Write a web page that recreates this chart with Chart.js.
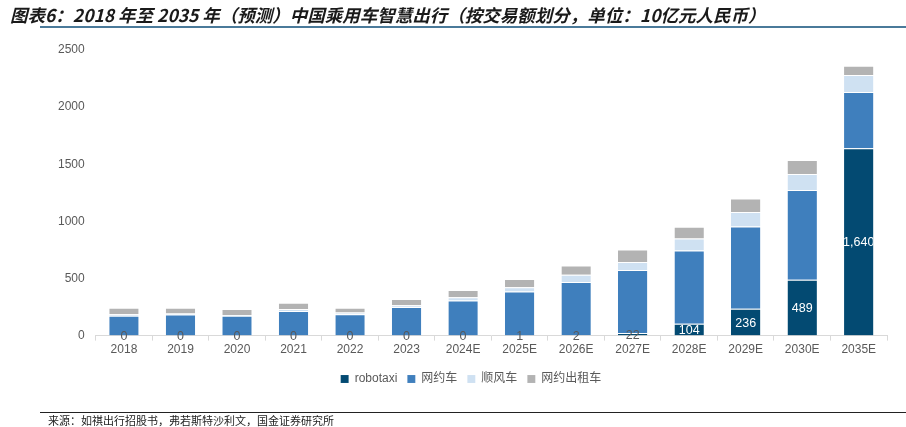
<!DOCTYPE html>
<html lang="zh">
<head>
<meta charset="utf-8">
<script src="https://cdn.jsdelivr.net/npm/chart.js@4.4.0/dist/chart.umd.min.js"></script>
<style>
  body { margin: 0; background: #fff; width: 906px; height: 427px; overflow: hidden; position: relative; }
  #titulo { position: absolute; left: 10px; top: 2px; font: italic bold 17.5px "Noto Sans CJK SC", sans-serif; color: #1a1a1a; white-space: nowrap; }
  #linea-titulo { position: absolute; left: 40px; right: 0; top: 26px; height: 2px; background: #4a7a9a; }
  #linea-fuente { position: absolute; left: 40px; right: 0; top: 412px; height: 1px; background: #222; }
  #fuente { position: absolute; left: 48px; top: 412px; font: 11px "Noto Sans CJK SC", sans-serif; color: #222; white-space: nowrap; }
  #caja { position: absolute; left: 0; top: 0; width: 906px; height: 427px; }
</style>
</head>
<body>
<div id="caja"><canvas id="grafica"></canvas></div>
<div id="titulo">图表6：2018 年至 2035 年（预测）中国乘用车智慧出行（按交易额划分，单位：10亿元人民币）</div>
<div id="linea-titulo"></div>
<div id="linea-fuente"></div>
<div id="fuente">来源：如祺出行招股书，弗若斯特沙利文，国金证券研究所</div>
<script>
const anios = ['2018', '2019', '2020', '2021', '2022', '2023', '2024E', '2025E', '2026E', '2027E', '2028E', '2029E', '2030E', '2035E']
const robotaxi = [0, 0, 0, 0, 0, 0, 0, 1, 2, 22, 104, 236, 489, 1640]
const wangyueche = [174, 185, 173, 215, 186, 250, 307, 385, 467, 552, 640, 720, 786, 492]
const shunfengche = [12, 8, 8, 17, 17, 15, 29, 38, 63, 71, 105, 126, 140, 149]
const chuzuche = [58, 51, 51, 56, 41, 55, 64, 72, 82, 108, 104, 118, 123, 81]
const ticksY = [0, 500, 1000, 1500, 2000, 2500]

const colorTexto = '#595959'
const fuenteNum = '"Liberation Sans", Arial, sans-serif'

// etiquetas de robotaxi dentro de la barra
const etiquetas = {
    id: 'etiquetas',
    afterDatasetsDraw(chart) {
        const ctx = chart.ctx
        const meta = chart.getDatasetMeta(0)
        ctx.save()
        ctx.font = '12.5px ' + fuenteNum
        ctx.textAlign = 'center'
        ctx.textBaseline = 'middle'
        meta.data.forEach((barra, i) => {
            const alto = Math.abs(barra.base - barra.y)
            const texto = robotaxi[i].toLocaleString('en-US')
            ctx.save()
            if (alto > 10) {
                ctx.beginPath()
                ctx.rect(barra.x - barra.width / 2, barra.y, barra.width, alto)
                ctx.clip()
                ctx.fillStyle = '#ffffff'
            } else {
                ctx.fillStyle = colorTexto
            }
            ctx.fillText(texto, barra.x, (barra.y + barra.base) / 2 + 1)
            ctx.restore()
        })
        ctx.restore()
    }
}

const crearDataset = (nombre, datos, color) => ({
    label: nombre,
    data: datos,
    backgroundColor: color,
    borderColor: 'rgba(255,255,255,0.35)',
    borderWidth: { top: 1 },
    borderSkipped: 'bottom',
    barPercentage: 0.52,
    categoryPercentage: 1
})

new Chart(document.querySelector('#grafica'), {
    type: 'bar',
    data: {
        labels: anios,
        datasets: [
            crearDataset('robotaxi', robotaxi, '#034a72'),
            crearDataset('网约车', wangyueche, '#3f7fbd'),
            crearDataset('顺风车', shunfengche, '#cfe1f2'),
            crearDataset('网约出租车', chuzuche, '#b3b3b3')
        ]
    },
    options: {
        responsive: true,
        maintainAspectRatio: false,
        animation: false,
        layout: { padding: { top: 50, left: 55, right: 19, bottom: 32 } },
        plugins: {
            tooltip: { enabled: false },
            legend: {
                position: 'bottom',
                labels: {
                    boxWidth: 8,
                    boxHeight: 8,
                    padding: 10,
                    color: colorTexto,
                    font: { size: 12, family: '"Liberation Sans", "Noto Sans CJK SC", sans-serif' }
                }
            }
        },
        scales: {
            x: {
                stacked: true,
                afterFit: (eje) => { eje.height += 4 },
                grid: { display: true, drawOnChartArea: false, offset: true, tickLength: 5, color: '#d9d9d9' },
                border: { color: '#d9d9d9' },
                ticks: { color: colorTexto, padding: 2, font: { size: 12, family: fuenteNum } }
            },
            y: {
                stacked: true,
                min: 0,
                max: 2500,
                afterBuildTicks: (eje) => { eje.ticks = ticksY.map(v => ({ value: v })) },
                grid: { display: false },
                border: { display: false },
                ticks: { color: colorTexto, padding: 3, callback: (v) => String(v), font: { size: 12, family: fuenteNum } }
            }
        }
    },
    plugins: [etiquetas]
})
</script>
</body>
</html>
